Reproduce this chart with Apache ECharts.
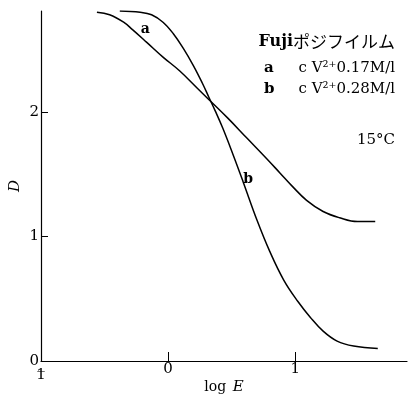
<!DOCTYPE html>
<html>
<head>
<meta charset="utf-8">
<script src="https://cdn.jsdelivr.net/npm/echarts@6/dist/echarts.min.js"></script>
<style>
  html, body { margin: 0; padding: 0; background: #fff; }
  #chart { width: 410px; height: 399px; }
</style>
</head>
<body>
<div id="chart"></div>
<script>
// curve a: cV2+ 0.17M/l
const aLogE = [-0.56, -0.46, -0.35, -0.28, -0.17, -0.04, 0.09, 0.23, 0.31, 0.47, 0.62, 0.78, 0.88, 0.98, 1.09, 1.22, 1.35, 1.49, 1.63];
const aD    = [2.80, 2.78, 2.72, 2.66, 2.56, 2.44, 2.33, 2.19, 2.11, 1.95, 1.79, 1.62, 1.51, 1.40, 1.29, 1.20, 1.15, 1.12, 1.12];
// curve b: cV2+ 0.28M/l
const bLogE = [-0.38, -0.22, -0.13, -0.04, 0.04, 0.12, 0.20, 0.27, 0.32, 0.37, 0.43, 0.51, 0.59, 0.70, 0.80, 0.91, 1.02, 1.12, 1.22, 1.33, 1.46, 1.65];
const bD    = [2.81, 2.80, 2.78, 2.72, 2.63, 2.51, 2.37, 2.23, 2.12, 2.01, 1.87, 1.66, 1.44, 1.13, 0.88, 0.65, 0.48, 0.35, 0.24, 0.16, 0.12, 0.10];

const xTicks = [-1, 0, 1];
const yTicks = [0, 1, 2];

const serif = '"DejaVu Serif", "Liberation Serif", serif';

function pairs(xs, ys) {
  return xs.map((x, i) => [x, ys[i]]);
}

const chart = echarts.init(document.getElementById('chart'));
chart.setOption({
  animation: false,
  grid: { left: 41, right: 3, top: 11, bottom: 38, outerBoundsMode: 'none', containLabel: false },
  xAxis: {
    type: 'value',
    min: -1,
    max: 1.88,
    splitLine: { show: false },
    axisLine: { onZero: false, lineStyle: { color: '#000', width: 1.2 } },
    axisTick: { inside: true, length: 9, customValues: [0, 1], lineStyle: { color: '#000' } },
    axisLabel: {
      customValues: xTicks,
      color: '#000',
      fontFamily: serif,
      fontSize: 15,
      margin: 0,
      // ī : 1 with a bar over it
      formatter: v => (v === -1 ? '{o|_}\n{n|1}' : '{n|' + v + '}'),
      rich: {
        o: { fontFamily: serif, fontSize: 15, lineHeight: 6, color: '#000' },
        n: { fontFamily: serif, fontSize: 15, lineHeight: 16, color: '#000' }
      }
    },
    name: '{r|log}  {i|E}',
    nameLocation: 'middle',
    nameGap: 19,
    nameMoveOverlap: false,
    nameTextStyle: {
      rich: {
        r: { fontFamily: serif, fontSize: 14, color: '#000' },
        i: { fontFamily: serif, fontSize: 15, fontStyle: 'italic', color: '#000' }
      }
    }
  },
  yAxis: {
    type: 'value',
    min: 0,
    max: 2.81,
    splitLine: { show: false },
    axisLine: { onZero: false, lineStyle: { color: '#000', width: 1.2 } },
    axisTick: { inside: true, length: 7, customValues: [1, 2], lineStyle: { color: '#000' } },
    axisLabel: {
      customValues: yTicks,
      color: '#000',
      fontFamily: serif,
      fontSize: 15,
      margin: 2
    },
    name: 'D',
    nameLocation: 'middle',
    nameGap: 18,
    nameRotate: 90,
    nameMoveOverlap: false,
    nameTextStyle: { color: '#000', fontFamily: serif, fontSize: 15, fontStyle: 'italic' }
  },
  series: [
    {
      name: 'a',
      type: 'line',
      data: pairs(aLogE, aD),
      smooth: 0.4,
      showSymbol: false,
      lineStyle: { color: '#000', width: 1.5 },
      markPoint: {
        symbolSize: 0,
        label: { show: true, formatter: 'a', color: '#000', fontFamily: serif, fontSize: 14, fontWeight: 'bold' },
        data: [{ coord: [-0.18, 2.66] }]
      }
    },
    {
      name: 'b',
      type: 'line',
      data: pairs(bLogE, bD),
      smooth: 0.4,
      showSymbol: false,
      lineStyle: { color: '#000', width: 1.5 },
      markPoint: {
        symbolSize: 0,
        label: { show: true, formatter: 'b', color: '#000', fontFamily: serif, fontSize: 14, fontWeight: 'bold' },
        data: [{ coord: [0.63, 1.46] }]
      }
    }
  ],
  graphic: [
    {
      type: 'text', right: 15, top: 33,
      style: {
        text: '{f|Fuji}{j|ポジフイルム}',
        rich: {
          f: { fontFamily: serif, fontSize: 16, fontWeight: 'bold', fill: '#000' },
          j: { fontFamily: '"Noto Sans CJK JP"', fontSize: 17, fill: '#000' }
        }
      }
    },
    { type: 'text', left: 264, top: 61, style: { text: 'a', font: 'bold 15px "DejaVu Serif", serif', fill: '#000' } },
    { type: 'text', right: 15, top: 61, style: { text: 'c V²⁺0.17M/l', font: '15px "DejaVu Serif", serif', fill: '#000' } },
    { type: 'text', left: 264, top: 82, style: { text: 'b', font: 'bold 15px "DejaVu Serif", serif', fill: '#000' } },
    { type: 'text', right: 15, top: 82, style: { text: 'c V²⁺0.28M/l', font: '15px "DejaVu Serif", serif', fill: '#000' } },
    { type: 'text', right: 15, top: 133, style: { text: '15°C', font: '15px "DejaVu Serif", serif', fill: '#000' } }
  ]
});
</script>
</body>
</html>
